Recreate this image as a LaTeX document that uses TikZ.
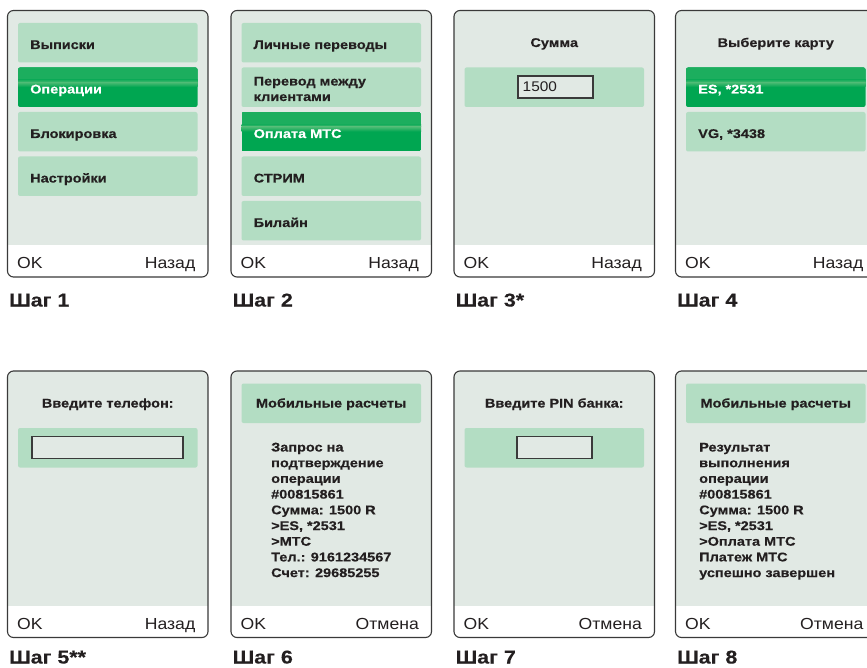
\documentclass[tikz,border=0pt]{standalone}
\usepackage{fontspec}
\newfontfamily\uib[FakeStretch=1.15, FakeBold=0.35, UprightFont={* Bold}]{Liberation Sans}
\newfontfamily\uir[FakeStretch=1.1]{Liberation Sans}
\definecolor{scrbg}{RGB}{225,233,228}
\definecolor{itembg}{RGB}{179,221,195}
\definecolor{seltop}{RGB}{28,174,94}
\definecolor{selhi}{RGB}{72,186,114}
\definecolor{selbot}{RGB}{0,166,81}
\definecolor{txt}{RGB}{35,31,32}
\definecolor{frame}{RGB}{58,58,58}
\tikzset{
  itemtext/.style={font=\uib\fontsize{12.6}{15}\selectfont, text=txt, inner sep=0pt, anchor=base west},
  seltext/.style={itemtext, text=white},
  titletext/.style={font=\uib\fontsize{12.6}{15}\selectfont, text=txt, inner sep=0pt, anchor=base},
  softkey/.style={font=\uir\fontsize{16}{18}\selectfont, text=txt, inner sep=0pt},
  fieldtext/.style={font=\uir\fontsize{14}{16}\selectfont, text=txt, inner sep=0pt, anchor=base west},
  steplabel/.style={font=\uib\fontsize{18.6}{21}\selectfont, text=txt, inner sep=0pt, anchor=base west},
  frameline/.style={draw=frame, line width=1.1pt},
  fieldbox/.style={draw=frame, line width=1.1pt, fill=scrbg},
}
\newcommand\phoneframe{%
  \begin{scope}
    \clip[rounded corners=6pt] (0,0) rectangle (200.5,266.5);
    \fill[scrbg] (0,0) rectangle (200.5,266.5);
    \fill[white] (0,234.5) rectangle (200.5,266.5);
  \end{scope}
  \draw[frameline, rounded corners=6pt] (0,0) rectangle (200.5,266.5);}
\newcommand\rowitem[1]{\fill[itembg, rounded corners=2pt] (10.5,#1) rectangle (190,#1+39.5);}
\newcommand\selitem[1]{%
  \begin{scope}
    \clip[rounded corners=2pt] (10.5,#1) rectangle (190,#1+39.5);
    \fill[selbot] (10.5,#1) rectangle (190,#1+39.5);
    \fill[seltop] (10.5,#1) rectangle (190,#1+12.5);
    \shade[top color=seltop, bottom color=selhi] (10.5,#1+12.5) rectangle (190,#1+15);
    \shade[top color=selhi, bottom color=selbot] (10.5,#1+15) rectangle (190,#1+19.5);
  \end{scope}}
\begin{document}
\begin{tikzpicture}[x=1pt, y=-1pt]
\useasboundingbox (0,0) rectangle (867,668);
\clip (0,0) rectangle (867,668);
\fill[white] (0,0) rectangle (867,668);

% ---------- Step 1 ----------
\begin{scope}[shift={(7.5,10.5)}]
  \phoneframe
  \rowitem{12.5} \selitem{57} \rowitem{101.5} \rowitem{146}
  \node[itemtext] (s1a) at (22.5,38.5) {Выписки};
  \node[seltext]  (s1b) at (22.5,83) {Операции};
  \node[itemtext] (s1c) at (22.5,127.5) {Блокировка};
  \node[itemtext] (s1d) at (22.5,172) {Настройки};
  \node[softkey, anchor=base west] (s1ok) at (9.5,258.2) {OK};
  \node[softkey, anchor=base east] (s1back) at (188,258.2) {Назад};
  \node[steplabel] (s1lab) at (1.5,296) {Шаг 1};
\end{scope}

% ---------- Step 2 ----------
\begin{scope}[shift={(231,10.5)}]
  \phoneframe
  \rowitem{12.5} \rowitem{57} \selitem{101.5} \rowitem{146} \rowitem{190.5}
  \node[itemtext] (s2a) at (22.5,38.5) {Личные переводы};
  \node[itemtext] (s2b1) at (22.5,75) {Перевод между};
  \node[itemtext] (s2b2) at (22.5,90.5) {клиентами};
  \node[seltext]  (s2c) at (22.5,127.5) {Оплата МТС};
  \node[itemtext] (s2d) at (22.5,172) {СТРИМ};
  \node[itemtext] (s2e) at (22.5,216.5) {Билайн};
  \node[softkey, anchor=base west] (s2ok) at (9.5,258.2) {OK};
  \node[softkey, anchor=base east] (s2back) at (188,258.2) {Назад};
  \node[steplabel] (s2lab) at (1.5,296) {Шаг 2};
\end{scope}

% ---------- Step 3 ----------
\begin{scope}[shift={(454,10.5)}]
  \phoneframe
  \node[titletext] (s3t) at (100.25,36.5) {Сумма};
  \rowitem{57}
  \draw[fieldbox] (64,65.5) rectangle (139,87.5);
  \node[fieldtext] (s3v) at (68.5,81.5) {1500};
  \node[softkey, anchor=base west] (s3ok) at (9.5,258.2) {OK};
  \node[softkey, anchor=base east] (s3back) at (188,258.2) {Назад};
  \node[steplabel] (s3lab) at (1.5,296) {Шаг 3*};
\end{scope}

% ---------- Step 4 ----------
\begin{scope}[shift={(675.5,10.5)}]
  \phoneframe
  \node[titletext] (s4t) at (100.25,36.5) {Выберите карту};
  \selitem{57} \rowitem{101.5}
  \node[seltext]  (s4a) at (22.5,83) {ES, *2531};
  \node[itemtext] (s4b) at (22.5,127.5) {VG, *3438};
  \node[softkey, anchor=base west] (s4ok) at (9.5,258.2) {OK};
  \node[softkey, anchor=base east] (s4back) at (188,258.2) {Назад};
  \node[steplabel] (s4lab) at (1.5,296) {Шаг 4};
\end{scope}

% ---------- Step 5 ----------
\begin{scope}[shift={(7.5,371)}]
  \phoneframe
  \node[titletext] (s5t) at (100.25,36.5) {Введите телефон:};
  \rowitem{57}
  \draw[fieldbox] (24.5,65.5) rectangle (175.5,87.5);
  \node[softkey, anchor=base west] (s5ok) at (9.5,258.2) {OK};
  \node[softkey, anchor=base east] (s5back) at (188,258.2) {Назад};
  \node[steplabel] (s5lab) at (1.5,292.5) {Шаг 5**};
\end{scope}

% ---------- Step 6 ----------
\begin{scope}[shift={(231,371)}]
  \phoneframe
  \rowitem{12.5}
  \node[titletext] (s6t) at (100.25,36.5) {Мобильные расчеты};
  \foreach \t [count=\i from 0] in {Запрос на, подтверждение, операции, \#00815861, Сумма: 1500 R, {>ES, *2531}, >МТС, Тел.: 9161234567, Счет: 29685255}
    \node[itemtext] (s6l\i) at (40,80.5+15.7*\i) {\t};
  \node[softkey, anchor=base west] (s6ok) at (9.5,258.2) {OK};
  \node[softkey, anchor=base east] (s6back) at (188,258.2) {Отмена};
  \node[steplabel] (s6lab) at (1.5,292.5) {Шаг 6};
\end{scope}

% ---------- Step 7 ----------
\begin{scope}[shift={(454,371)}]
  \phoneframe
  \node[titletext] (s7t) at (100.25,36.5) {Введите PIN банка:};
  \rowitem{57}
  \draw[fieldbox] (63,65.5) rectangle (138,87.5);
  \node[softkey, anchor=base west] (s7ok) at (9.5,258.2) {OK};
  \node[softkey, anchor=base east] (s7back) at (188,258.2) {Отмена};
  \node[steplabel] (s7lab) at (1.5,292.5) {Шаг 7};
\end{scope}

% ---------- Step 8 ----------
\begin{scope}[shift={(675.5,371)}]
  \phoneframe
  \rowitem{12.5}
  \node[titletext] (s8t) at (100.25,36.5) {Мобильные расчеты};
  \foreach \t [count=\i from 0] in {Результат, выполнения, операции, \#00815861, Сумма: 1500 R, {>ES, *2531}, >Оплата МТС, Платеж МТС, успешно завершен}
    \node[itemtext] (s8l\i) at (23.5,80.5+15.7*\i) {\t};
  \node[softkey, anchor=base west] (s8ok) at (9.5,258.2) {OK};
  \node[softkey, anchor=base east] (s8back) at (188,258.2) {Отмена};
  \node[steplabel] (s8lab) at (1.5,292.5) {Шаг 8};
\end{scope}
\end{tikzpicture}
\end{document}
